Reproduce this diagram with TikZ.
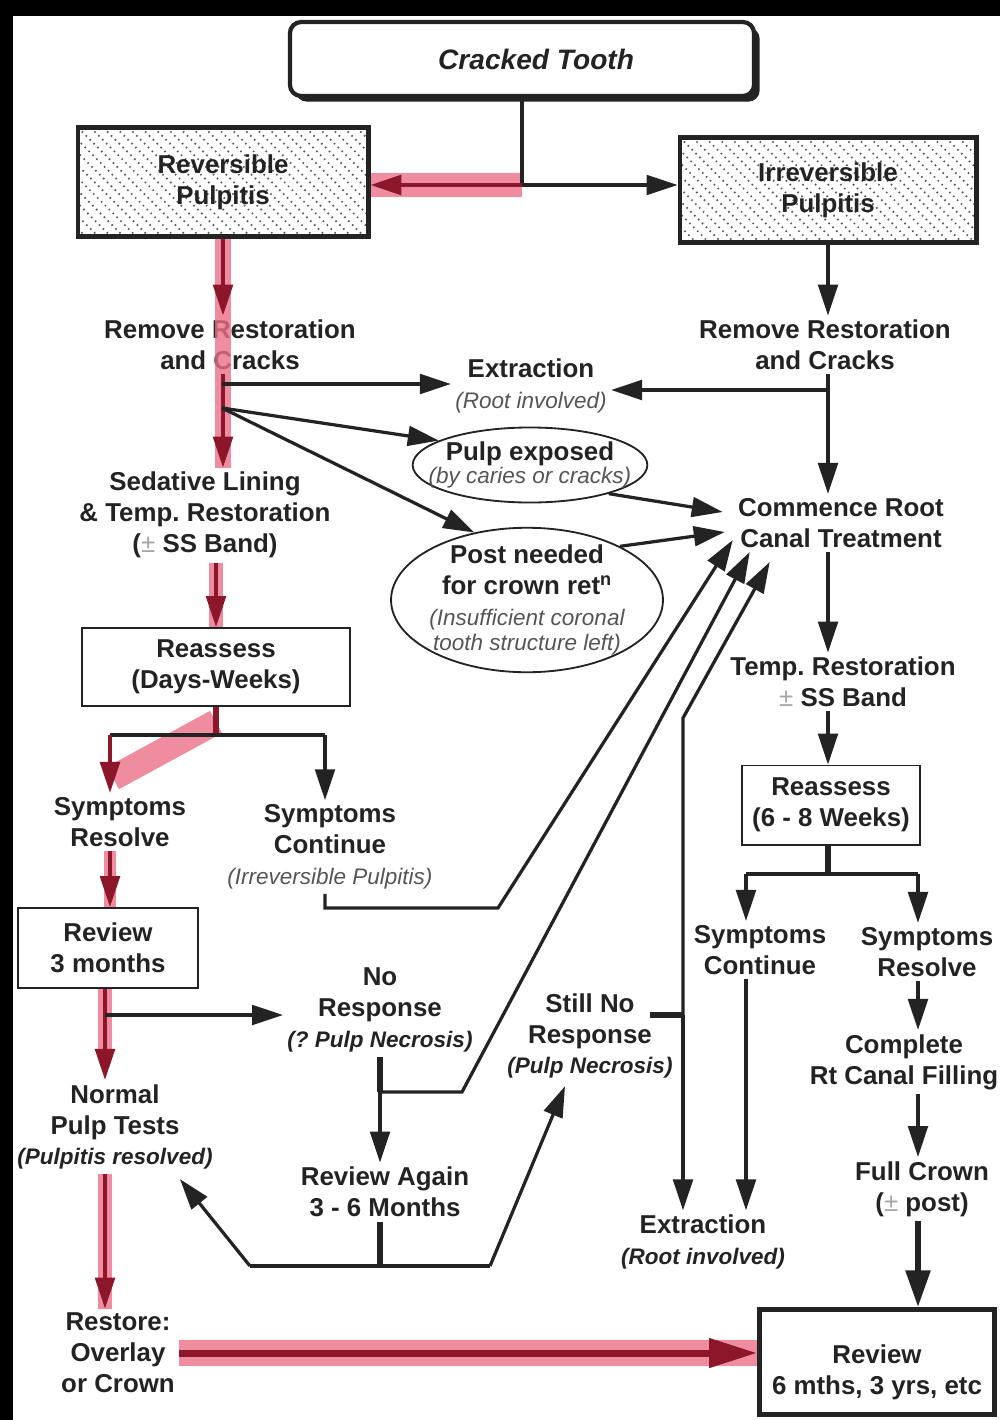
\documentclass[tikz,border=0pt]{standalone}
\usepackage{fontspec}
\setmainfont{Liberation Sans}
\usetikzlibrary{arrows.meta,shapes.geometric,shadows}
\frenchspacing

\definecolor{ink}{RGB}{35,35,35}
\definecolor{note}{RGB}{85,85,85}
\definecolor{hilite}{RGB}{236,112,135}
\definecolor{wine}{RGB}{140,22,42}

\newcommand{\subnote}[1]{{\fontsize{16}{19}\selectfont\mdseries\itshape\color{note}#1}}
\newcommand{\boldnote}[1]{{\fontsize{16}{19}\selectfont\itshape #1}}
\newcommand{\pmg}{{\color{gray!70}\mdseries ±}}

\tikzset{
  lbl/.style={font=\bfseries\fontsize{18.4}{22}\selectfont, text=ink, align=center, inner sep=3pt},
  plainbox/.style={lbl, draw=ink, line width=1.4pt},
  heavybox/.style={lbl, draw=ink, line width=3.5pt},
  hatched/.style={heavybox, path picture={
      \foreach \k in {-12,...,28}
        \draw[black!65, line width=1.2pt, dash pattern=on 1.1pt off 2.8pt]
          ([xshift=\k*9pt]path picture bounding box.north west) -- ++(4cm,-4cm);}},
  oval/.style={lbl, draw=ink, line width=1.3pt, ellipse},
  link/.style={draw=ink, line width=2.3pt},
  stub/.style={draw=ink, line width=4.5pt},
  arr/.style={link, -{Triangle[length=22pt,width=14pt]}},
  bigarr/.style={draw=ink, line width=4pt, -{Triangle[length=26pt,width=17pt]}},
  redarr/.style={draw=wine, line width=2.6pt, -{Triangle[length=22pt,width=14pt]}},
  bigred/.style={draw=wine, line width=5pt, -{Triangle[length=34pt,width=20pt]}},
  band/.style={draw=hilite, opacity=0.8},
}

\begin{document}
\begin{tikzpicture}[x=0.025cm,y=-0.025cm]
\useasboundingbox (0,0) rectangle (1000,1420);
\fill[black] (0,0) rectangle (1000,1420);
\fill[white] (13,16) rectangle (1000,1420);

% top of the chart
\node[draw=ink, line width=3pt, rounded corners=8pt, fill=white,
      drop shadow={shadow xshift=4pt, shadow yshift=-4pt, fill=ink, opacity=1},
      minimum width=11.6cm, minimum height=1.85cm,
      font=\bfseries\itshape\fontsize{20}{24}\selectfont, text=ink] (tooth) at (522,59) {\hspace*{20pt}Cracked Tooth};
\node[hatched, minimum width=7.25cm, minimum height=2.72cm] (rev) at (223,182) {Reversible\\Pulpitis};
\node[hatched, minimum width=7.4cm, minimum height=2.62cm] (irr) at (828,190) {Irreversible\\Pulpitis};

% reversible side
\node[lbl] (remL) at (230,345) {Remove Restoration\\and Cracks};
\node[lbl] (sed) at (205,515) {Sedative Lining\\\& Temp. Restoration\\(\pmg\ SS Band)};
\node[plainbox, minimum width=6.675cm, minimum height=1.95cm] (reaL) at (216,667) {Reassess\\(Days-Weeks)};
\node[lbl] (symRL) at (120,822) {Symptoms\\Resolve};
\node[lbl] (symCL) at (330,847) {Symptoms\\Continue\\\subnote{(Irreversible Pulpitis)}};
\node[plainbox, minimum width=4.5cm, minimum height=2cm] (rev3) at (108,948) {Review\\3 months};
\node[lbl] (noresp) at (380,1010) {No\\Response\\\boldnote{(? Pulp Necrosis)}};
\node[lbl] (normal) at (115,1127) {Normal\\Pulp Tests\\\boldnote{(Pulpitis resolved)}};
\node[lbl] (revag) at (385,1192) {Review Again\\3 - 6 Months};
\node[lbl] (stillno) at (590,1036) {Still No\\Response\\\boldnote{(Pulp Necrosis)}};
\node[lbl] (restore) at (118,1353) {Restore:\\Overlay\\or Crown};

% middle
\node[lbl] (extr) at (531,386) {Extraction\\\subnote{(Root involved)}};
\node[oval, inner xsep=-13pt, inner ysep=0pt, minimum height=1.875cm] (pulp) at (530,465)
  {Pulp exposed\\[-6pt]\subnote{(by caries or cracks)}};
\node[oval, inner xsep=-1pt, inner ysep=-3pt] (post) at (527,600)
  {Post needed\\for crown ret\textsuperscript{n}\\\subnote{(Insufficient coronal}\\[-4pt]\subnote{tooth structure left)}};

% irreversible side
\node[lbl] (remR) at (825,345) {Remove Restoration\\and Cracks};
\node[lbl] (crt) at (841,523) {Commence Root\\Canal Treatment};
\node[lbl] (temp) at (843,682) {Temp. Restoration\\\pmg\ SS Band};
\node[plainbox, minimum width=4.45cm, minimum height=1.975cm] (reaR) at (831,805) {Reassess\\(6 - 8 Weeks)};
\node[lbl] (symCR) at (760,950) {Symptoms\\Continue};
\node[lbl] (symRR) at (927,952) {Symptoms\\Resolve};
\node[lbl] (compl) at (904,1062) {Complete\\Rt Canal Filling};
\node[lbl] (crown) at (922,1189) {Full Crown\\(\pmg\ post)};
\node[lbl] (extrB) at (703,1242) {Extraction\\\boldnote{(Root involved)}};
\node[heavybox, minimum width=5.875cm, minimum height=2.625cm] (rev2) at (877,1362)
  {\rule{0pt}{28pt}Review\\6 mths, 3 yrs, etc};

% junctions
\coordinate (split) at (522,185);
\coordinate (lA) at (222,384);
\coordinate (lB) at (222,408);
\coordinate (rsL) at (110,735);
\coordinate (rsR) at (325,735);
\coordinate (kA) at (498,908);
\coordinate (nA) at (105,1015);
\coordinate (nB) at (380,1092);
\coordinate (kB) at (462,1092);
\coordinate (gB) at (380,1266);
\coordinate (gL) at (250,1266);
\coordinate (gR) at (490,1266);
\coordinate (sbar) at (650,1015);
\coordinate (sA) at (683,1015);
\coordinate (sK) at (683,718);
\coordinate (rA) at (828,390);
\coordinate (qA) at (828,874);
\coordinate (qL) at (746,874);
\coordinate (qR) at (918,874);

% highlighted route
\draw[band, line width=17pt] (split) -- (split -| rev.east);
\draw[band, line width=11pt] (rev.south) -- (rev.south |- sed.north);
\draw[band, line width=10pt] (sed.south -| reaL.north) -- (reaL.north);
\draw[band, line width=18pt] (216,722) -- (113,778);
\draw[band, line width=9pt] (symRL.south -| rsL) -- (rsL |- rev3.north);
\draw[band, line width=10pt] (rev3.south -| nA) -- ++(0,62);
\draw[band, line width=10pt] (normal.south -| nA) -- (nA |- restore.north);
\draw[band, line width=19pt] (restore.east) -- (restore.east -| rev2.west);

% arrows
\draw[link] (tooth.south -| split) -- (split);
\draw[redarr] (split) -- (split -| rev.east);
\draw[arr] (split) -- (split -| irr.west);

\draw[redarr] (rev.south) -- (rev.south |- remL.north);
\draw[redarr] (rev.south |- remL.south) -- (rev.south |- sed.north);
\draw[arr] (lA) -- (lA -| extr.west);
\draw[arr] (lB) -- (pulp.165);
\draw[arr] (lB) -- (post.128);
\draw[redarr] (sed.south -| reaL.north) -- (reaL.north);

\draw[stub, wine] (reaL.south) -- (reaL.south |- rsL);
\draw[link] (rsL) -- (rsR);
\draw[redarr] (rsL) -- (rsL |- symRL.north);
\draw[arr] (rsR) -- (rsR |- symCL.north);
\draw[arr] (symCL.south -| rsR) |- (kA) -- ([shift={(-1,17)}]crt.west);

\draw[redarr] (symRL.south -| rsL) -- (rsL |- rev3.north);
\draw[redarr] (rev3.south -| nA) -- (nA |- normal.north);
\draw[arr] (nA) -- (nA -| noresp.west);

\draw[stub] (noresp.south -| nB) -- (nB);
\draw[arr] (nB) -- (nB |- revag.north);
\draw[arr] (nB) -- (kB) -- ([shift={(16,29)}]crt.west);

\draw[stub] (revag.south -| gB) -- (gB);
\draw[link] (gL) -- (gR);
\draw[arr] (gL) -- ([shift={(65,5)}]normal.south);
\draw[arr] (gR) -- ([shift={(-25,3)}]stillno.south);

\draw[stub] (sbar) -- (sA);
\draw[arr] (sA) -- (sK) -- ([shift={(36,39)}]crt.west);
\draw[arr] (sA) -- (sA |- extrB.north);

\draw[arr] (irr.south -| rA) -- (rA |- remR.north);
\draw[link] (remR.south -| rA) -- (rA);
\draw[arr] (rA) -- (rA -| extr.east);
\draw[arr] (rA) -- (rA |- crt.north);
\draw[arr] (pulp.-20) -- ([shift={(-11,-11)}]crt.west);
\draw[arr] (post.30) -- ([shift={(-9,9)}]crt.west);
\draw[arr] (crt.south -| rA) -- (rA |- temp.north);
\draw[arr] (temp.south -| rA) -- (rA |- reaR.north);

\draw[stub] (reaR.south -| qA) -- (qA);
\draw[link] (qL) -- (qR);
\draw[arr] (qL) -- (qL |- symCR.north);
\draw[arr] (qR) -- (qR |- symRR.north);
\draw[arr] (symCR.south -| qL) -- (qL |- extrB.north);
\draw[arr] (symRR.south -| qR) -- (qR |- compl.north);
\draw[arr] (compl.south -| qR) -- (qR |- crown.north);
\draw[bigarr] (crown.south -| qR) -- (qR |- rev2.north);

\draw[redarr] (normal.south -| nA) -- (nA |- restore.north);
\draw[bigred] (restore.east) -- (restore.east -| rev2.west);
\end{tikzpicture}
\end{document}
